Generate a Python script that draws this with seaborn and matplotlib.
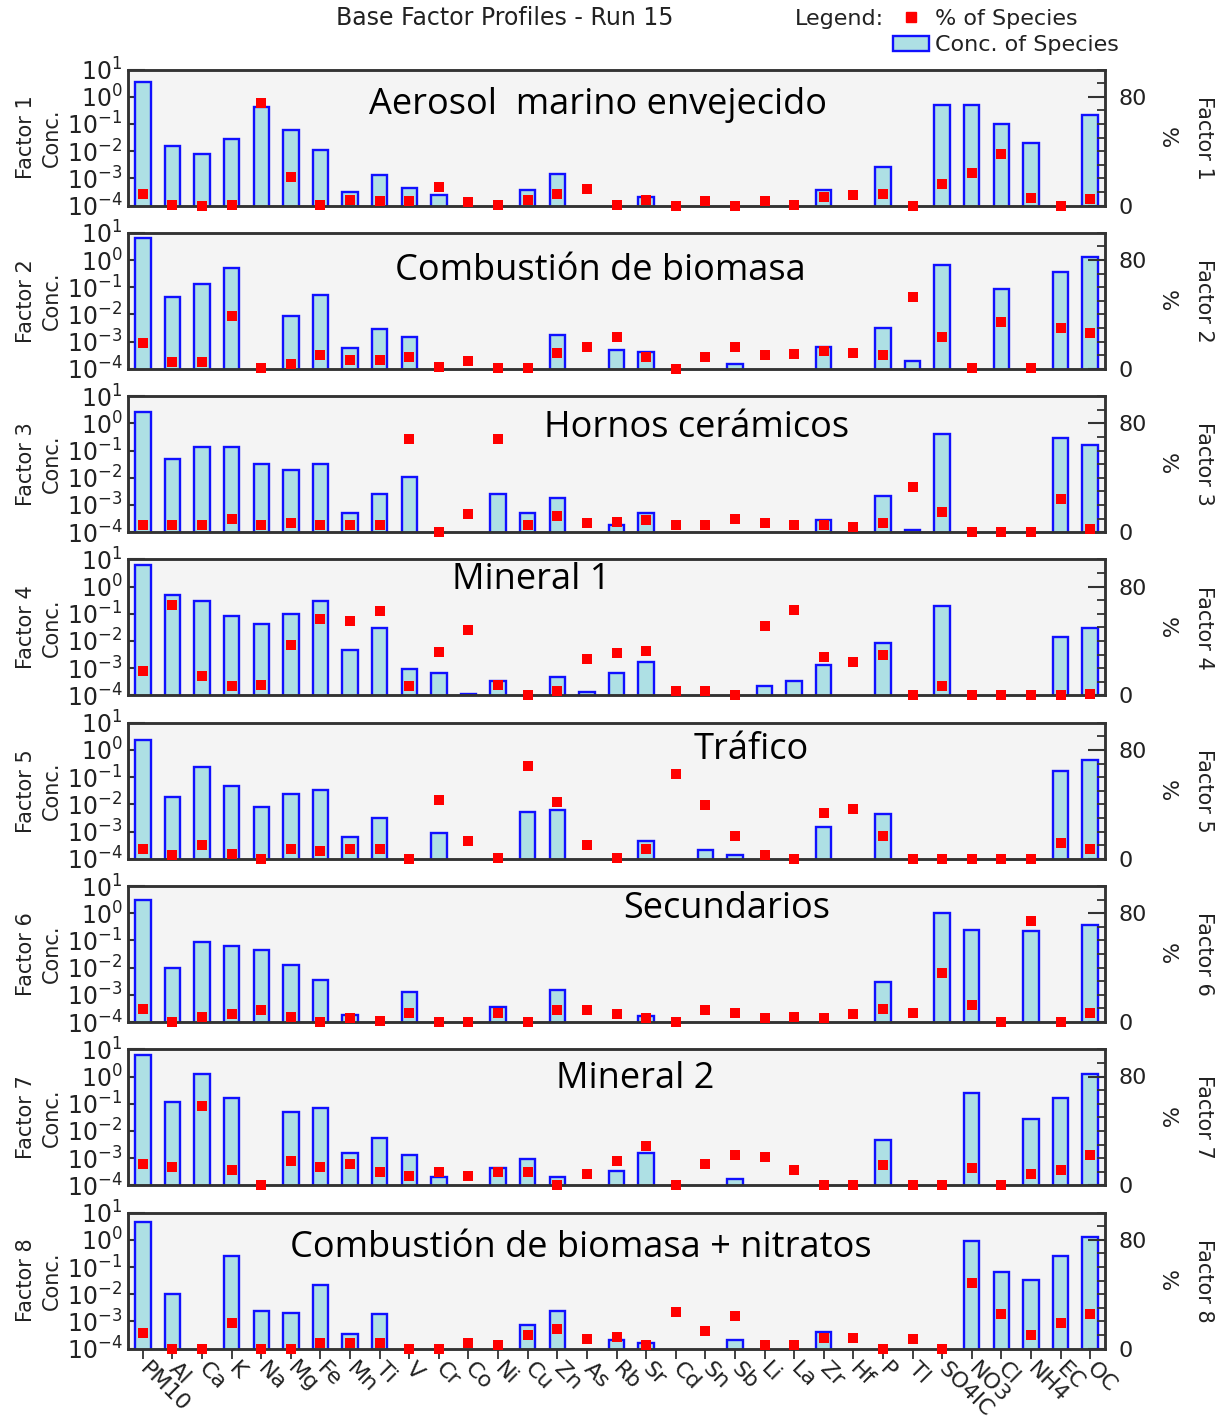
import matplotlib

matplotlib.use("Agg")
import matplotlib.pyplot as plt
import numpy as np
import pandas as pd
import seaborn as sns
from matplotlib.lines import Line2D
from matplotlib.patches import Patch
from matplotlib.ticker import FixedLocator, MultipleLocator, NullLocator

nan = np.nan

SPECIES = ["PM10", "Al", "Ca", "K", "Na", "Mg", "Fe", "Mn", "Ti", "V", "Cr",
           "Co", "Ni", "Cu", "Zn", "As", "Rb", "Sr", "Cd", "Sn", "Sb", "Li",
           "La", "Zr", "Hf", "P", "Tl", "SO4IC", "NO3", "Cl", "NH4", "EC", "OC"]

FACTOR_NAMES = ["Aerosol  marino envejecido", "Combustión de biomasa",
                "Hornos cerámicos", "Mineral 1", "Tráfico", "Secundarios",
                "Mineral 2", "Combustión de biomasa + nitratos"]

# concentration of species (log axis), nan = no bar
CONC_F1 = [3.5, 0.016, 0.008, 0.029, 0.42, 0.058, 0.011, 3.1e-4, 1.3e-3, 4.4e-4, 2.5e-4,
           nan, nan, 3.8e-4, 1.5e-3, nan, nan, 2.1e-4, nan, nan, nan, nan,
           nan, 3.8e-4, nan, 2.6e-3, nan, 0.49, 0.49, 0.10, 0.020, nan, 0.21]
CONC_F2 = [6.6, 0.044, 0.13, 0.52, nan, 0.0089, 0.051, 5.9e-4, 2.9e-3, 1.44e-3, nan,
           nan, nan, nan, 1.75e-3, nan, 5.0e-4, 4.1e-4, nan, nan, 1.44e-4, nan,
           nan, 6.2e-4, nan, 3.1e-3, 2.0e-4, 0.66, nan, 0.089, nan, 0.37, 1.29]
CONC_F3 = [2.6, 0.048, 0.14, 0.14, 0.032, 0.019, 0.032, 5.2e-4, 2.6e-3, 0.0109, nan,
           nan, 2.6e-3, 5.1e-4, 1.8e-3, nan, 1.77e-4, 5.1e-4, nan, nan, nan, nan,
           nan, 2.7e-4, nan, 2.2e-3, 1.15e-4, 0.40, nan, nan, nan, 0.29, 0.16]
CONC_F4 = [6.0, 0.50, 0.30, 0.085, 0.042, 0.098, 0.30, 4.8e-3, 0.030, 9.5e-4, 6.8e-4,
           1.15e-4, 3.3e-4, nan, 4.7e-4, 1.3e-4, 6.8e-4, 1.66e-3, nan, nan, nan, 2.3e-4,
           3.3e-4, 1.36e-3, nan, 8.2e-3, nan, 0.195, nan, nan, nan, 0.0145, 0.030]
CONC_F5 = [2.4, 0.0187, 0.24, 0.049, 7.8e-3, 0.023, 0.033, 6.1e-4, 3.2e-3, nan, 8.8e-4,
           nan, nan, 5.4e-3, 6.4e-3, nan, nan, 4.4e-4, nan, 2.1e-4, 1.4e-4, nan,
           nan, 1.47e-3, nan, 4.4e-3, nan, nan, nan, nan, nan, 0.166, 0.41]
CONC_F6 = [3.0, 0.010, 0.087, 0.063, 0.044, 0.0124, 3.55e-3, 1.75e-4, nan, 1.23e-3, nan,
           nan, 3.5e-4, nan, 1.45e-3, nan, nan, 1.65e-4, nan, nan, nan, nan,
           nan, nan, nan, 2.9e-3, nan, 1.0, 0.245, nan, 0.214, nan, 0.37]
CONC_F7 = [6.3, 0.119, 1.26, 0.162, nan, 0.048, 0.067, 1.49e-3, 5.3e-3, 1.26e-3, 2.0e-4,
           nan, 4.4e-4, 8.9e-4, 2.1e-4, nan, 3.5e-4, 1.49e-3, nan, nan, 1.7e-4, nan,
           nan, nan, nan, 4.5e-3, nan, nan, 0.24, nan, 0.027, 0.162, 1.26]
CONC_F8 = [4.7, 0.0102, nan, 0.26, 2.5e-3, 2.07e-3, 0.0214, 3.5e-4, 1.8e-3, nan, nan,
           nan, nan, 7.1e-4, 2.5e-3, nan, 2.0e-4, 1.66e-4, nan, nan, 2.0e-4, nan,
           nan, 4.2e-4, nan, nan, nan, nan, 0.91, 0.064, 0.032, 0.26, 1.32]

# % of species (right axis)
PCT_F1 = [8.6, 0.3, 0, 0.5, 75, 21, 0.5, 3.7, 3.2, 3.2, 13.5, 2.5, 0.7, 3.7, 8.6, 12.3, 0.5,
          3.7, 0, 3, 0, 3, 0.7, 6.6, 7.4, 8.6, 0, 16, 23.8, 38, 5.7, 0, 4.9]
PCT_F2 = [18.8, 4.9, 4.9, 39, 0.7, 3.7, 9.8, 6.6, 6.6, 8.5, 1.2, 5.4, 0.7, 0.7, 11.5, 15.9,
          23.7, 8.5, 0, 8.5, 16.3, 9.8, 11, 12.9, 11.5, 9.8, 52.9, 23.7, 0.7, 34.6, 0.7, 30, 26]
PCT_F3 = [5.4, 5.4, 5.4, 9.9, 5.4, 6.7, 5.4, 5.4, 5.4, 68.4, 0, 13.6, 68.4, 5.4, 11.6, 6.9,
          7.4, 8.6, 5.4, 5.4, 9.9, 6.9, 5.4, 5.4, 3.7, 6.9, 33.3, 14.8, 0, 0, 0, 24, 2.5]
PCT_F4 = [18.3, 66.6, 13.9, 6.6, 7.8, 37.3, 56.1, 54.4, 62.2, 6.6, 32.2, 48.3, 7.8, 0, 3.2,
          26.6, 31, 32.7, 3.2, 3.2, 0, 50.7, 62.9, 28.5, 24.9, 29.8, 0, 6.6, 0, 0, 0, 0, 1.2]
PCT_F5 = [7.1, 2.9, 9.8, 3.7, 0, 7.1, 5.4, 7.1, 7.1, 0, 43, 13.3, 0.5, 68, 41.5, 9.8, 0.5,
          7.1, 62, 39.8, 16.5, 2.9, 0, 33.7, 36.6, 16.5, 0, 0, 0, 0, 0, 11.5, 7.1]
PCT_F6 = [9.7, 0, 3.9, 5.6, 8.5, 3.9, 0, 3.1, 0.7, 6.3, 0, 0, 6.8, 0, 8.5, 8.5, 5.6, 3.1,
          0, 8.5, 6.8, 3.1, 3.9, 3.1, 5.6, 9.7, 6.8, 35.8, 12.8, 0, 74.6, 0, 6.3]
PCT_F7 = [15.8, 13.3, 58.5, 11.6, 0, 17.8, 13.3, 16, 9.9, 6.7, 9.9, 6.7, 9.6, 9.6, 0, 8.4,
          17.8, 28.9, 0, 16, 22.2, 21, 11.6, 0, 0, 14.6, 0, 0, 12.8, 0, 8.4, 11.6, 22.2]
PCT_F8 = [11.7, 0, 0, 19, 0, 0, 3.9, 3.9, 3.9, 0, 0, 3.9, 2.4, 9.8, 14.1, 6.8, 8.8, 2.4,
          26.8, 12.9, 23.9, 2.4, 2.4, 8, 8, 0, 6.8, 0, 48.3, 25.1, 9.8, 19, 25.1]

CONC = [CONC_F1, CONC_F2, CONC_F3, CONC_F4, CONC_F5, CONC_F6, CONC_F7, CONC_F8]
PCT = [PCT_F1, PCT_F2, PCT_F3, PCT_F4, PCT_F5, PCT_F6, PCT_F7, PCT_F8]

# where the factor name sits inside each panel (axes fraction)
NAME_POS = [(0.481, 0.74), (0.484, 0.72), (0.582, 0.763), (0.413, 0.846),
            (0.638, 0.80), (0.613, 0.83), (0.519, 0.785), (0.463, 0.74)]

BAR_FILL = "#AEE0E4"
BAR_EDGE = "#1010FF"
PANEL_BG = "#F4F4F4"
FRAME = "#333333"
TEXT = "#222222"

sns.set_style("ticks")
plt.rcParams["font.family"] = ["DejaVu Sans"]

W, H = 1230, 1423
fig = plt.figure(figsize=(W / 100, H / 100), dpi=100)

for i in range(8):
    df = pd.DataFrame({"species": SPECIES, "conc": CONC[i], "pct": PCT[i]})
    top_px = 69.5 + 163.3 * i
    ax = fig.add_axes([128 / W, 1 - (top_px + 136) / H, 977 / W, 136 / H])
    ax.set_facecolor(PANEL_BG)

    sns.barplot(data=df, x="species", y="conc", order=SPECIES, ax=ax,
                color=BAR_FILL, saturation=1, width=0.52, errorbar=None,
                edgecolor=BAR_EDGE, linewidth=1.7)
    ax.set_yscale("log")
    ax.set_ylim(1e-4, 10)
    ax.yaxis.set_major_locator(FixedLocator([1e1, 1e0, 1e-1, 1e-2, 1e-3, 1e-4]))
    ax.yaxis.set_minor_locator(NullLocator())
    ax.tick_params(axis="y", direction="in", length=12, width=1.5, color=FRAME,
                   labelsize=17, pad=4, labelcolor=TEXT)

    ax2 = ax.twinx()
    sns.stripplot(data=df, x="species", y="pct", order=SPECIES, ax=ax2,
                  jitter=False, marker="s", color="#FF0000", size=6.5,
                  linewidth=0, zorder=5, clip_on=False)
    ax2.set_ylim(0, 100)
    ax2.yaxis.set_major_locator(FixedLocator([0, 80]))
    ax2.yaxis.set_minor_locator(MultipleLocator(10))
    ax2.tick_params(axis="y", which="major", direction="in", length=12, width=1.5,
                    color=FRAME, labelsize=16, pad=10, labelcolor=TEXT)
    ax2.tick_params(axis="y", which="minor", direction="in", length=6, width=1.3,
                    color=FRAME)
    ax2.set_ylabel("")
    ax2.text(1.0635, 0.5, "%", transform=ax2.transAxes, rotation=270,
             ha="center", va="center", fontsize=16, color=TEXT)
    ax2.text(1.101, 0.5, f"Factor {i + 1}", transform=ax2.transAxes,
             rotation=270, ha="center", va="center", fontsize=15, color=TEXT)
    ax2.text(NAME_POS[i][0], NAME_POS[i][1], FACTOR_NAMES[i],
             transform=ax2.transAxes, ha="center", va="center",
             fontsize=26, family=["Open Sans", "DejaVu Sans"], color="black")

    ax.set_xlim(-0.5, len(SPECIES) - 0.5)
    ax.set_xlabel("")
    ax.set_ylabel(f"Factor {i + 1}\nConc.", fontsize=15, color=TEXT, linespacing=1.35)
    ax.yaxis.set_label_coords(-0.068, 0.5)

    for a in (ax, ax2):
        for side in a.spines.values():
            side.set_visible(True)
            side.set_color(FRAME)
            side.set_linewidth(1.8)

    ax.set_xticks(range(len(SPECIES)))
    if i < 7:
        ax.tick_params(axis="x", length=0, labelbottom=False)
    else:
        ax.set_xticklabels(SPECIES, rotation=-45, ha="left", va="center",
                           rotation_mode="anchor", fontsize=16, color=TEXT)
        ax.tick_params(axis="x", direction="out", length=7, width=1.3,
                       color=FRAME, pad=5)

fig.text(505 / W, 1 - 18 / H, "Base Factor Profiles - Run 15", ha="center",
         va="center", fontsize=17, color=TEXT)
fig.text(839 / W, 1 - 19 / H, "Legend:", ha="center", va="center",
         fontsize=16, color=TEXT)
handles = [
    Line2D([], [], marker="s", color="#FF0000", linestyle="none", markersize=7),
    Patch(facecolor=BAR_FILL, edgecolor=BAR_EDGE, linewidth=1.7),
]
fig.legend(handles=handles, labels=["% of Species", "Conc. of Species"],
           loc="upper left", bbox_to_anchor=(893 / W, 1 - 9 / H), frameon=False,
           fontsize=16, handlelength=1.6, handletextpad=0.3, labelspacing=0.28,
           borderaxespad=0, borderpad=0, labelcolor=TEXT)

fig.savefig("out.png", dpi=100, facecolor="white")
